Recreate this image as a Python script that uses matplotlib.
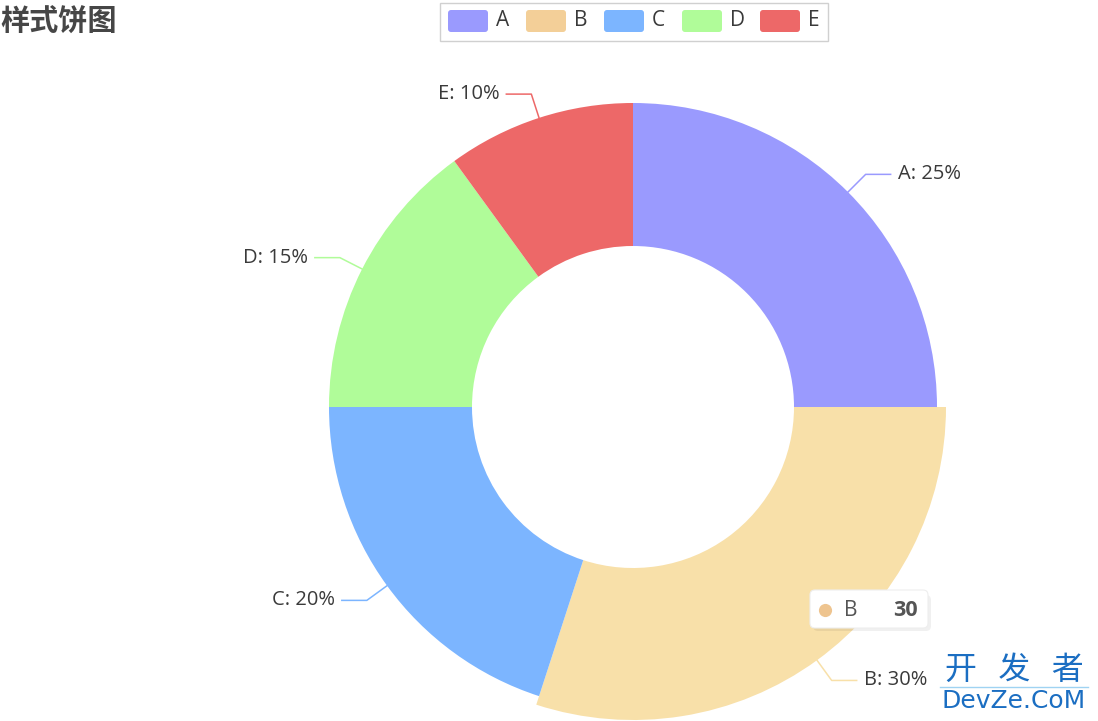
"""Styled donut chart (样式饼图)."""

import numpy as np
import matplotlib
matplotlib.use("Agg")
import matplotlib.pyplot as plt
from matplotlib.patches import FancyBboxPatch, Rectangle

plt.rcParams["font.family"] = ["Open Sans", "Noto Sans CJK SC", "DejaVu Sans"]

names = ["A", "B", "C", "D", "E"]
values = [25, 30, 20, 15, 10]
colors = ["#9a9afe", "#f8e0a9", "#7cb5ff", "#b0fc99", "#ed6868"]
legend_colors = ["#9a9afe", "#f3cf98", "#7cb5ff", "#b0fc99", "#ed6868"]
highlight = 1  # B is hovered
TEXT = "#3a3a3a"

W, H = 1098, 721
CX, CY = 633, H - 407
R_OUT, R_IN, R_HI = 304, 161, 313

fig = plt.figure(figsize=(W / 100, H / 100), dpi=100)
ax = fig.add_axes([0, 0, 1, 1])

wedges, _ = ax.pie(values, colors=colors, startangle=90, counterclock=False,
                   radius=R_OUT, center=(CX, CY), frame=True,
                   wedgeprops=dict(width=R_OUT - R_IN, linewidth=0))
wedges[highlight].set_radius(R_HI)
wedges[highlight].set_width(R_HI - R_IN)
ax.set_xlim(0, W)
ax.set_ylim(0, H)
ax.set_aspect("equal")
ax.axis("off")

# labels with leader lines
total = sum(values)
pct = [v / total * 100 for v in values]
for i, w in enumerate(wedges):
    mid = np.deg2rad((w.theta1 + w.theta2) / 2)
    r = R_HI if i == highlight else R_OUT
    x0, y0 = CX + r * np.cos(mid), CY + r * np.sin(mid)
    x1, y1 = CX + (r + 25) * np.cos(mid), CY + (r + 25) * np.sin(mid)
    side = 1 if np.cos(mid) >= 0 else -1
    x2 = x1 + side * 25
    ax.plot([x0, x1, x2], [y0, y1, y1], color=colors[i], lw=1.1, zorder=3)
    ax.text(x2 + side * 7, y1, f"{names[i]}: {pct[i]:.0f}%", fontsize=14.5,
            color=TEXT, ha="left" if side > 0 else "right", va="center")

# title
ax.text(0, H - 22, "样式饼图", fontsize=21, fontweight="bold",
        color="#464646", va="center", ha="left", family=["Noto Sans CJK SC"])

# legend
ax.add_patch(Rectangle((440, H - 41), 388, 38, fill=False, ec="#d0d0d0", lw=1))
for i, n in enumerate(names):
    lx = 448 + i * 78
    ax.add_patch(FancyBboxPatch((lx + 3, H - 32 + 3), 34, 16,
                                boxstyle="round,pad=3", fc=legend_colors[i], ec="none"))
    ax.text(lx + 48, H - 21, n, fontsize=15, color=TEXT, va="center", ha="left")

# tooltip
ax.add_patch(FancyBboxPatch((813, H - 631), 118, 36, boxstyle="round,pad=0,rounding_size=5",
                            fc="#000000", alpha=0.06, ec="none", zorder=4))
ax.add_patch(FancyBboxPatch((810, H - 628), 118, 38, boxstyle="round,pad=0,rounding_size=5",
                            fc="white", ec="#eeeeee", lw=0.8, zorder=5))
ax.scatter([825], [H - 610], s=90, color="#eec48f", zorder=6, linewidths=0)
ax.text(844, H - 610, names[highlight], fontsize=15, color="#555555",
        va="center", ha="left", zorder=6)
ax.text(918, H - 610, str(values[highlight]), fontsize=15.5, fontweight="bold",
        color="#555555", va="center", ha="right", zorder=6)

# watermark
ax.text(1014, H - 670, "开   发   者", fontsize=23, color="#1b6ec2",
        va="center", ha="center", family=["Noto Sans CJK SC"])
ax.plot([940, 1088], [H - 687, H - 687], color="#9fd3f2", lw=1)
ax.text(1014, H - 701, "DevZe.CoM", fontsize=18, color="#1b6ec2",
        va="center", ha="center", family=["DejaVu Sans"])

fig.savefig("out.png", dpi=100)
